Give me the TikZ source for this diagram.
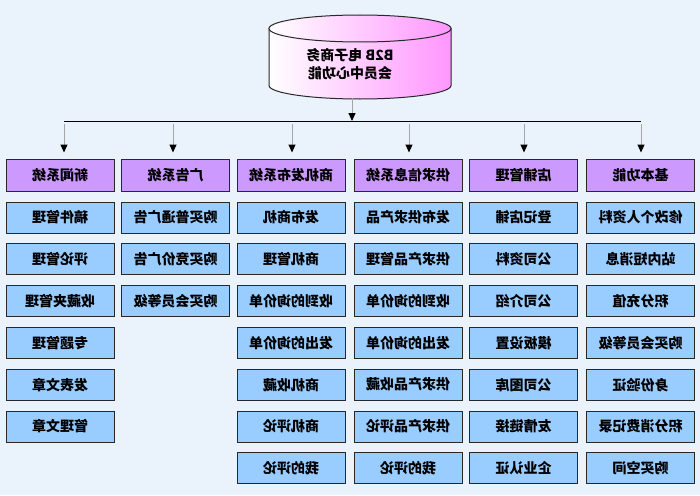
\documentclass[tikz,border=0pt]{standalone}
\usepackage{fontspec}
\usepackage{graphicx}
\setmainfont{Noto Sans CJK SC}
\usetikzlibrary{arrows.meta}
\definecolor{bg}{RGB}{234,243,252}
\definecolor{hdrfill}{RGB}{204,153,255}
\definecolor{itemfill}{RGB}{153,204,255}
\definecolor{cylpink}{RGB}{255,150,255}
\definecolor{edge}{RGB}{40,40,40}
\newcommand{\mir}[1]{\reflectbox{#1}}
\tikzset{
  boxbase/.style={draw=edge, line width=1pt, minimum width=108pt, minimum height=31pt, inner sep=0pt, font=\fontsize{14}{16}\selectfont\bfseries},
  hdr/.style={boxbase, fill=hdrfill, minimum height=32pt},
  item/.style={boxbase, fill=itemfill},
  conn/.style={draw=gray!70, line width=1pt, -{Triangle[length=8pt,width=7pt,color=black]}},
  bar/.style={draw=black, line width=1pt}
}
\begin{document}
\begin{tikzpicture}[x=1pt,y=-1pt]
\fill[bg] (0,0) rectangle (700,495);
\useasboundingbox (0,0) rectangle (700,495);
% cylinder
\path[left color=white, right color=cylpink, draw=edge, line width=1pt]
  (269,28.5) -- (269,85.5) arc[start angle=180, end angle=360, x radius=91pt, y radius=13.5pt] -- (451,28.5) -- cycle;
\draw[left color=white, right color=cylpink, draw=edge, line width=1pt] (360,28.5) ellipse[x radius=91pt, y radius=13.5pt];
\node[font=\fontsize{14}{18}\selectfont\bfseries, align=center] (cyl) at (350,64) {\mir{B2B 电子商务}\\\mir{会员中心功能}};
\coordinate (cb) at (352,98);
\coordinate (barL) at (64,121);
\coordinate (barR) at (641,121);
\draw[bar] (barL) -- (barR);
\draw[conn] (cb) -- (cb |- barL);
\foreach \cx/\ax/\hd/\items [count=\c] in {
  60/64/新闻系统/{稿件管理,评论管理,收藏夹管理,专题管理,发表文章,管理文章},
  175.5/173/广告系统/{购买普通广告,购买竞价广告,购买会员等级},
  291/292/商机发布系统/{发布商机,商机管理,收到的询价单,发出的询价单,商机收藏,商机评论,我的评论},
  408/409/供求信息系统/{发布供求产品,供求产品管理,收到的询价单,发出的询价单,供求产品收藏,供求产品评论,我的评论},
  523.5/524/店铺管理/{登记店铺,公司资料,公司介绍,模板设置,公司图库,友情链接,企业认证},
  640.5/641/基本功能/{修改个人资料,站内短消息,积分充值,购买会员等级,身份验证,积分消费记录,购买空间}} {
  \node[hdr] (h\c) at (\cx,175) {\mir{\hd}};
  \coordinate (t\c) at (\ax,124);
  \draw[conn, shorten >=6pt] (t\c) -- (t\c |- h\c.north);
  \foreach \it [count=\r] in \items {
    \node[item] (c\c-\r) at (\cx,{217.5+(\r-1)*41.8}) {\mir{\it}};
  }
}
\end{tikzpicture}
\end{document}
